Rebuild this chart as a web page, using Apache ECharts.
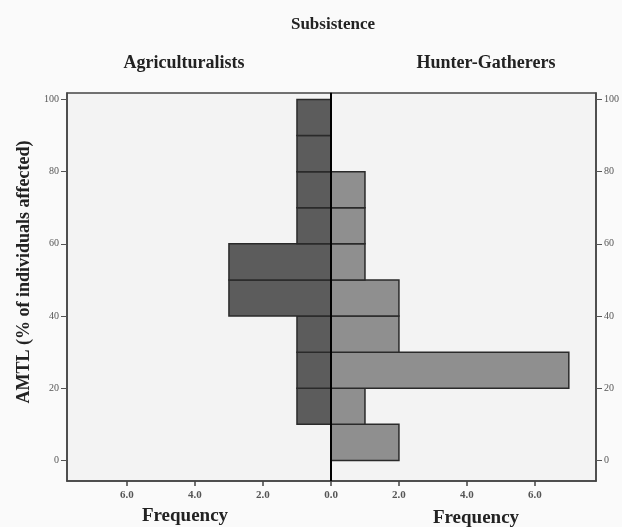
<!DOCTYPE html>
<html>
<head>
<meta charset="utf-8">
<script src="https://cdn.jsdelivr.net/npm/echarts@6/dist/echarts.min.js"></script>
<style>
html,body{margin:0;padding:0;background:#fafafa;}
#chart{width:622px;height:527px;}
</style>
</head>
<body>
<div id="chart"></div>
<script>
// Bins of AMTL (% of individuals affected)
const binStarts = [0, 10, 20, 30, 40, 50, 60, 70, 80, 90];
const binEnds   = [10, 20, 30, 40, 50, 60, 70, 80, 90, 100];
// Frequencies per bin
const agriculturalists = [0, 1, 1, 1, 3, 3, 1, 1, 1, 1];
const hunterGatherers  = [2, 1, 7, 2, 2, 1, 1, 1, 0, 0];
const yTicks = [0, 20, 40, 60, 80, 100];
const xTicks = [0, 2, 4, 6];

const serif = "'Liberation Serif', 'DejaVu Serif', serif";
const toData = arr => binStarts.map((s, i) => [s, binEnds[i], arr[i]]);

function makeRender(fill) {
  return function (params, api) {
    const y0 = api.value(0), y1 = api.value(1), c = api.value(2);
    if (!c) return null;
    const p0 = api.coord([0, y0]);
    const p1 = api.coord([c, y1]);
    return {
      type: 'rect',
      shape: {
        x: Math.min(p0[0], p1[0]),
        y: Math.min(p0[1], p1[1]),
        width: Math.abs(p1[0] - p0[0]),
        height: Math.abs(p1[1] - p0[1])
      },
      style: { fill: fill, stroke: '#2a2a2a', lineWidth: 1.5 }
    };
  };
}

const axisLineStyle = { color: '#444', width: 1.5 };
const tickLabel = { fontFamily: serif, fontSize: 11, color: '#555', fontWeight: 'bold' };

const chart = echarts.init(document.getElementById('chart'));
chart.setOption({
  backgroundColor: '#fafafa',
  animation: false,
  graphic: [
    { type: 'text', x: 333, y: 25, style: { text: 'Subsistence', font: "bold 17px " + serif, fill: '#222', textAlign: 'center', textVerticalAlign: 'middle' } },
    { type: 'text', x: 184, y: 63, style: { text: 'Agriculturalists', font: "bold 18px " + serif, fill: '#222', textAlign: 'center', textVerticalAlign: 'middle' } },
    { type: 'text', x: 486, y: 63, style: { text: 'Hunter-Gatherers', font: "bold 18px " + serif, fill: '#222', textAlign: 'center', textVerticalAlign: 'middle' } },
    { type: 'text', x: 185, y: 516, style: { text: 'Frequency', font: "bold 19px " + serif, fill: '#222', textAlign: 'center', textVerticalAlign: 'middle' } },
    { type: 'text', x: 476, y: 518, style: { text: 'Frequency', font: "bold 19px " + serif, fill: '#222', textAlign: 'center', textVerticalAlign: 'middle' } },
    { type: 'text', x: 24, y: 272, rotation: Math.PI / 2, style: { text: 'AMTL (% of individuals affected)', font: "bold 18px " + serif, fill: '#222', textAlign: 'center', textVerticalAlign: 'middle' } }
  ],
  grid: [
    { left: 67, top: 93, width: 264, height: 388, show: true, backgroundColor: '#f3f3f3', borderColor: '#444', borderWidth: 1.5 },
    { left: 331, top: 93, width: 265, height: 388, show: true, backgroundColor: '#f3f3f3', borderColor: '#444', borderWidth: 1.5 }
  ],
  xAxis: [
    {
      gridIndex: 0, type: 'value', min: 0, max: 7.76, inverse: true, position: 'bottom',
      axisLine: { show: true, onZero: false, lineStyle: axisLineStyle },
      axisTick: { show: true, length: 5, lineStyle: { color: '#444', width: 1.5 }, customValues: xTicks },
      axisLabel: Object.assign({ customValues: [2, 4, 6], margin: 9, formatter: v => v.toFixed(1) }, tickLabel),
      splitLine: { show: false }
    },
    {
      gridIndex: 1, type: 'value', min: 0, max: 7.8, position: 'bottom',
      axisLine: { show: true, onZero: false, lineStyle: axisLineStyle },
      axisTick: { show: true, length: 5, lineStyle: { color: '#444', width: 1.5 }, customValues: xTicks },
      axisLabel: Object.assign({ customValues: xTicks, margin: 9, formatter: v => v.toFixed(1) }, tickLabel),
      splitLine: { show: false }
    }
  ],
  yAxis: [
    {
      gridIndex: 0, type: 'value', min: -5.7, max: 101.8, position: 'left',
      axisLine: { show: true, onZero: false, lineStyle: axisLineStyle },
      axisTick: { show: true, length: 6, lineStyle: { color: '#555' }, customValues: yTicks },
      axisLabel: Object.assign({ customValues: yTicks, margin: 8 }, tickLabel, { fontWeight: 'normal', fontSize: 10 }),
      splitLine: { show: false }
    },
    {
      gridIndex: 1, type: 'value', min: -5.7, max: 101.8, position: 'right',
      axisLine: { show: true, onZero: false, lineStyle: axisLineStyle },
      axisTick: { show: true, length: 6, lineStyle: { color: '#555' }, customValues: yTicks },
      axisLabel: Object.assign({ customValues: yTicks, margin: 8 }, tickLabel, { fontWeight: 'normal', fontSize: 10 }),
      splitLine: { show: false }
    }
  ],
  series: [
    {
      name: 'Agriculturalists', type: 'custom', xAxisIndex: 0, yAxisIndex: 0,
      renderItem: makeRender('#5c5c5c'),
      encode: { x: 2, y: [0, 1] },
      data: toData(agriculturalists)
    },
    {
      name: 'Hunter-Gatherers', type: 'custom', xAxisIndex: 1, yAxisIndex: 1,
      renderItem: makeRender('#8f8f8f'),
      encode: { x: 2, y: [0, 1] },
      data: toData(hunterGatherers),
      markLine: {
        silent: true, symbol: 'none', label: { show: false },
        lineStyle: { color: '#000', width: 2, type: 'solid' },
        data: [{ xAxis: 0 }]
      }
    }
  ]
});
</script>
</body>
</html>
